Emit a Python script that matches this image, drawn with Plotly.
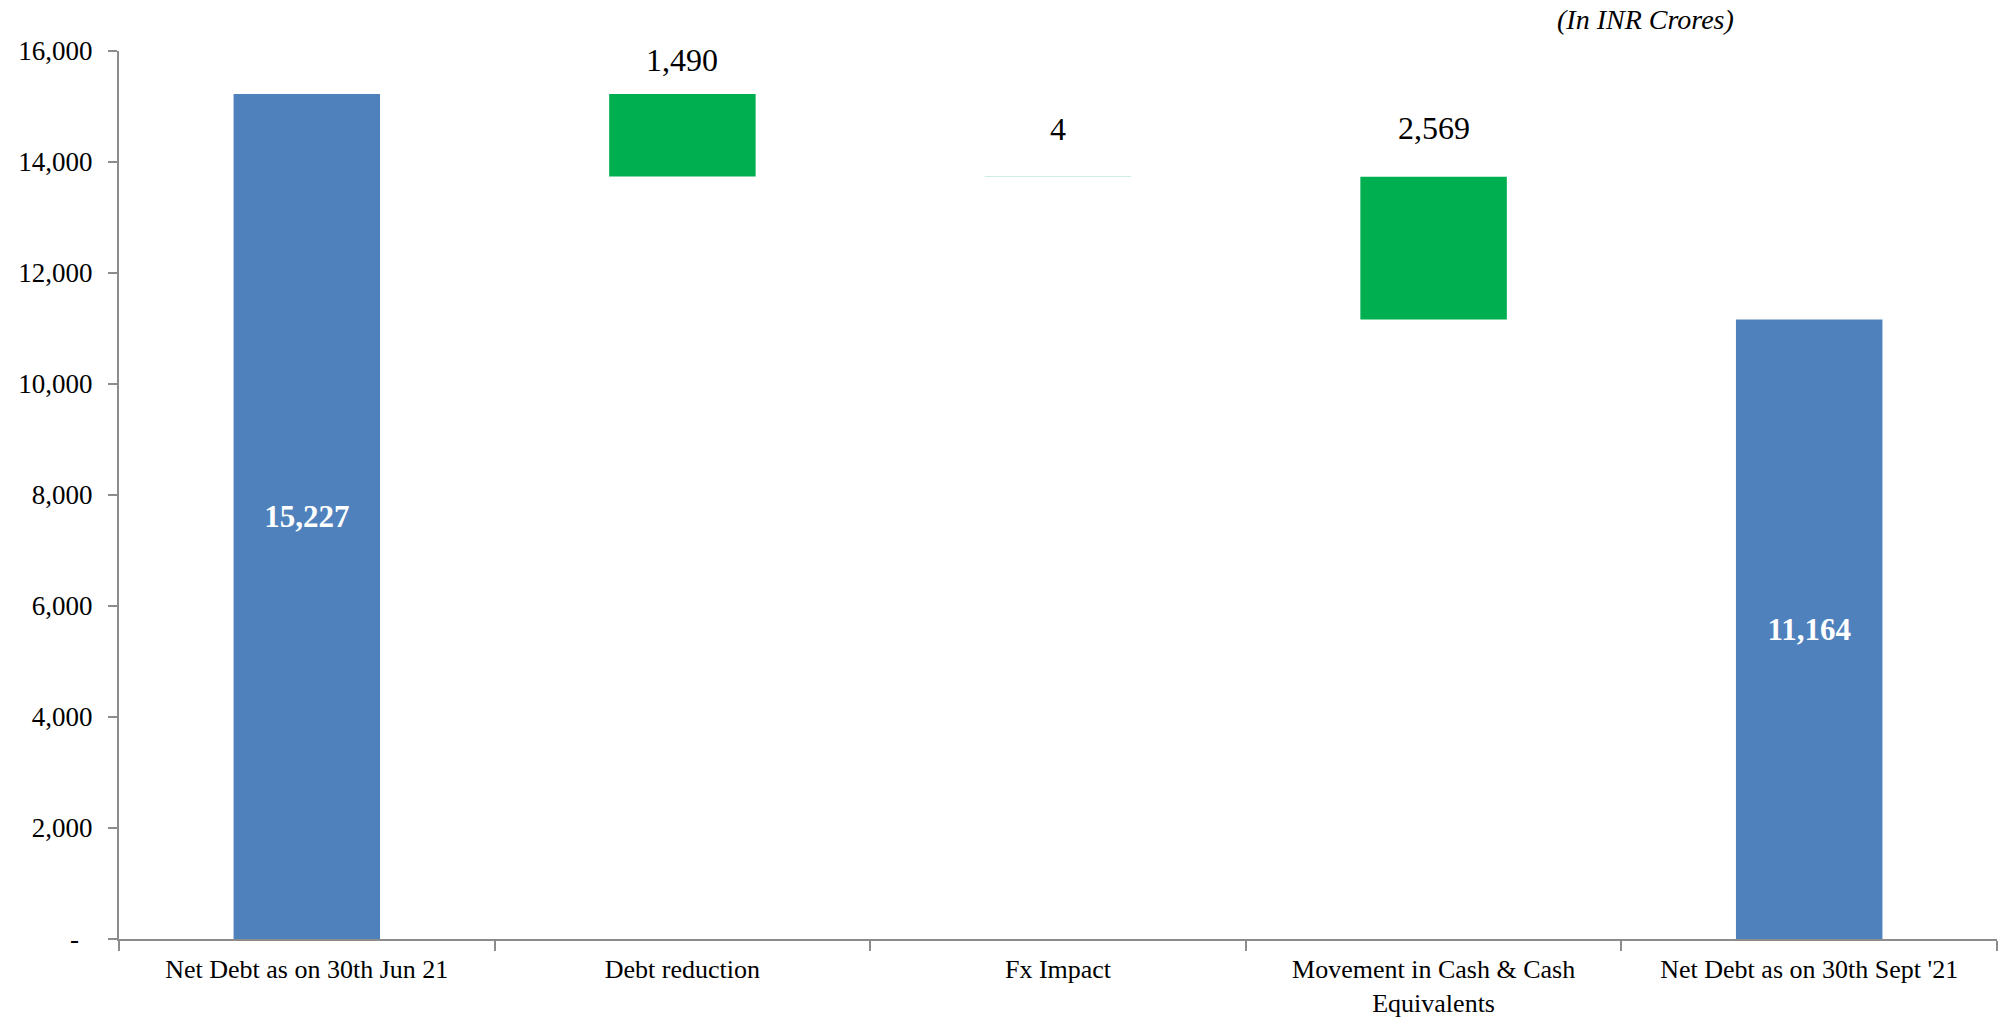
import plotly.graph_objects as go

categories = ["Net Debt as on 30th Jun 21", "Debt reduction", "Fx Impact",
              "Movement in Cash & Cash<br>Equivalents", "Net Debt as on 30th Sept '21"]
measures = ["absolute", "relative", "relative", "relative", "total"]
values = [15227, -1490, -4, -2569, 11164]
colors = ["#4F81BD", "#00B050", "#CDEFE0", "#00B050", "#4F81BD"]
y_ticks = [0, 2000, 4000, 6000, 8000, 10000, 12000, 14000, 16000]
y_ticktext = ["-\u00a0\u00a0"] + [f"{v:,}" for v in y_ticks[1:]]

# compute bar bases/heights from the waterfall data
bases, heights = [], []
running = 0
for m, v in zip(measures, values):
    if m in ("absolute", "total"):
        bases.append(0)
        heights.append(v)
        running = v
    else:
        new = running + v
        bases.append(min(running, new))
        heights.append(abs(v))
        running = new

FONT = "Liberation Serif"
fig = go.Figure()
fig.add_trace(go.Bar(
    x=categories, y=heights, base=bases,
    marker=dict(color=colors, line=dict(width=0)),
    width=0.39,
    text=[f"{h:,}" if m != "relative" else "" for h, m in zip(heights, measures)],
    textposition="inside", insidetextanchor="middle",
    textfont=dict(family=FONT, size=31, color="white", weight="bold"),
    hoverinfo="skip",
))

label_shift = [0, 34, 48, 49, 0]
for i, (c, m, b, h) in enumerate(zip(categories, measures, bases, heights)):
    if m == "relative":
        fig.add_annotation(x=c, y=b + h, text=f"{h:,}", showarrow=False,
                           yanchor="middle", yshift=label_shift[i],
                           font=dict(family=FONT, size=32, color="black"))

fig.add_annotation(xref="paper", yref="paper", x=0.813, y=1.035, xanchor="center",
                   yanchor="middle", text="<i>(In INR Crores)</i>", showarrow=False,
                   font=dict(family=FONT, size=28, color="black"))

fig.update_layout(
    width=2001, height=1021,
    margin=dict(l=119, r=4, t=51, b=82),
    plot_bgcolor="white", paper_bgcolor="white",
    showlegend=False,
    xaxis=dict(
        type="category", showline=True, linecolor="#8C8C8C", linewidth=2,
        ticks="outside", tickson="boundaries", ticklen=10, tickcolor="#8C8C8C",
        tickwidth=2, showgrid=False, ticklabelstandoff=6,
        tickfont=dict(family=FONT, size=26, color="black"),
    ),
    yaxis=dict(
        range=[0, 16000], tickvals=y_ticks, ticktext=y_ticktext,
        showline=True, linecolor="#8C8C8C", linewidth=2,
        ticks="outside", ticklen=9, tickcolor="#8C8C8C", tickwidth=2,
        showgrid=False, zeroline=False, ticklabelstandoff=10,
        tickfont=dict(family=FONT, size=27, color="black"),
    ),
)

fig.write_html("out.html")
